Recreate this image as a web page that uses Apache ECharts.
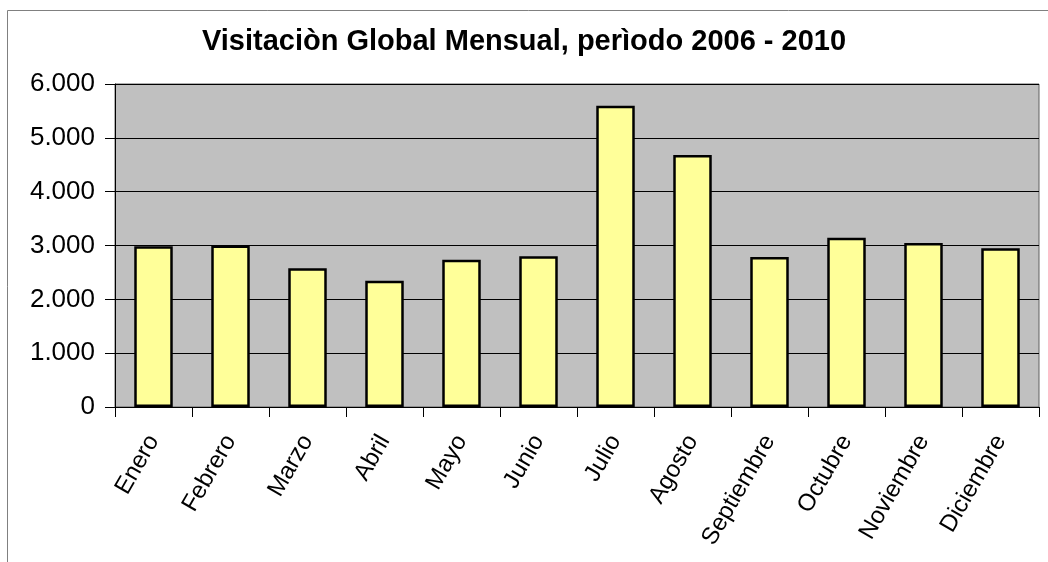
<!DOCTYPE html>
<html>
<head>
<meta charset="utf-8">
<script src="https://cdn.jsdelivr.net/npm/echarts@6/dist/echarts.min.js"></script>
<style>
  html, body { margin: 0; padding: 0; background: #fff; }
  #chart { width: 1048px; height: 562px; }
</style>
</head>
<body>
<div id="chart"></div>
<script>
  // meses y visitas
  var meses = ['Enero', 'Febrero', 'Marzo', 'Abril', 'Mayo', 'Junio', 'Julio', 'Agosto',
    'Septiembre', 'Octubre', 'Noviembre', 'Diciembre']
  var visitas = [2985, 3000, 2577, 2347, 2737, 2799, 5597, 4681, 2786, 3145, 3047, 2948]
  var titulo = 'Visitaciòn Global Mensual, perìodo 2006 - 2010'

  var chart = echarts.init(document.getElementById('chart'))
  var fuente = 'Liberation Sans, Arial, sans-serif'

  var option = {
    animation: false,
    backgroundColor: '#fff',
    textStyle: { fontFamily: fuente },
    title: {
      text: titulo,
      left: 'center',
      top: 22,
      textStyle: { fontSize: 29, fontWeight: 'bold', color: '#000', fontFamily: fuente }
    },
    // marco exterior del grafico
    graphic: [{
      type: 'rect',
      shape: { x: 7.5, y: 10.5, width: 1100, height: 600 },
      style: { fill: 'none', stroke: '#808080', lineWidth: 1 },
      silent: true
    }],
    grid: {
      left: 115,
      top: 84,
      right: 9,
      bottom: 155,
      show: true,
      backgroundColor: '#C0C0C0',
      borderColor: '#606060',
      borderWidth: 1
    },
    xAxis: {
      type: 'category',
      data: meses,
      axisLine: { lineStyle: { color: '#000', width: 1 } },
      axisTick: { show: true, length: 10, lineStyle: { color: '#000' } },
      axisLabel: {
        rotate: 60,
        interval: 0,
        fontSize: 24,
        color: '#000',
        margin: 30
      }
    },
    yAxis: {
      type: 'value',
      min: 0,
      max: 6000,
      interval: 1000,
      axisLine: { show: true, lineStyle: { color: '#000', width: 1 } },
      axisTick: { show: true, length: 10, lineStyle: { color: '#000' } },
      splitLine: { lineStyle: { color: '#000', width: 1 } },
      axisLabel: {
        fontSize: 26,
        color: '#000',
        margin: 20,
        formatter: function (v) {
          return String(v).replace(/\B(?=(\d{3})+(?!\d))/g, '.')
        }
      }
    },
    series: [{
      type: 'bar',
      data: visitas,
      barCategoryGap: '50%',
      itemStyle: { color: '#FFFF99', borderColor: '#000', borderWidth: 2.5 }
    }]
  }
  chart.setOption(option)
</script>
</body>
</html>
